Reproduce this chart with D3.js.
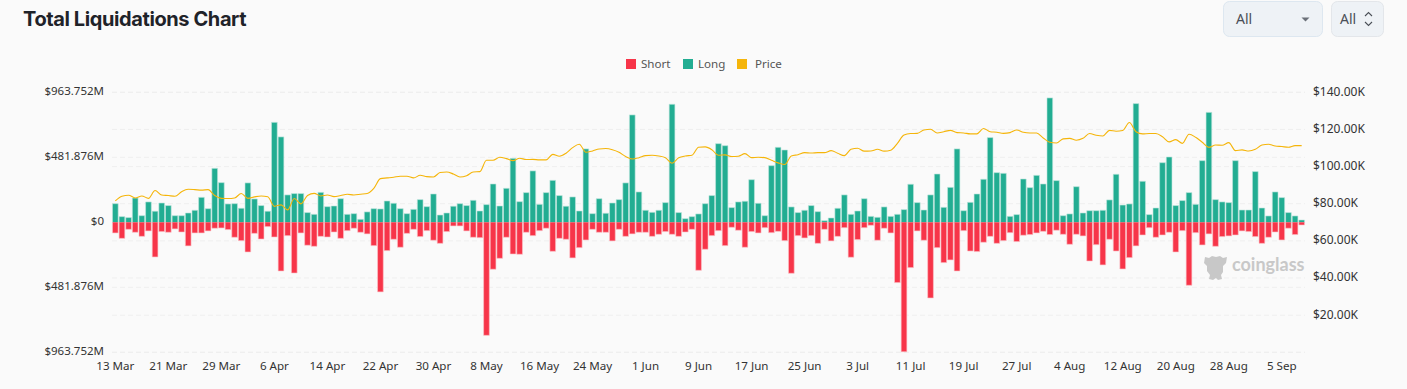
<!DOCTYPE html>
<html>
<head>
<meta charset="utf-8">
<script src="https://cdn.jsdelivr.net/npm/d3@7"></script>
<style>
  html, body { margin: 0; background: #fafafa; overflow: hidden; }
  text { font-family: "Noto Sans", sans-serif; }
</style>
</head>
<body>
<div id="container"></div>
<script>
/* CONSTANTS AND DATA */
const width = 1407, height = 389
const margin = { top: 92.3, bottom: 36.7, left: 112, right: 102 }

const days = d3.utcDay.range(Date.UTC(2025, 2, 13), Date.UTC(2025, 8, 9))
const dateTicks = ["13 Mar","21 Mar","29 Mar","6 Apr","14 Apr","22 Apr","30 Apr","8 May","16 May","24 May","1 Jun","9 Jun","17 Jun","25 Jun","3 Jul","11 Jul","19 Jul","27 Jul","4 Aug","12 Aug","20 Aug","28 Aug","5 Sep"]

// liquidations in $M
const longs = [138,42,35,180,49,151,82,143,124,49,49,69,89,185,101,400,294,136,138,104,292,173,124,82,741,633,203,213,213,72,59,222,116,121,175,59,64,22,77,101,99,158,141,101,64,96,168,116,210,54,69,119,138,124,163,84,131,284,121,252,474,153,220,381,133,220,311,198,119,188,84,544,64,175,67,143,168,292,796,225,89,74,89,146,875,72,27,42,62,138,198,583,568,109,151,156,316,141,49,420,556,536,114,72,89,124,79,12,32,104,203,59,84,175,44,37,114,44,59,94,282,146,91,203,358,111,259,544,86,148,210,319,628,368,363,44,57,321,257,348,284,922,309,49,62,264,69,86,86,89,166,356,128,136,880,304,57,106,442,484,124,161,220,133,457,815,168,151,146,457,91,91,376,106,47,225,183,72,47,17]
const shorts = [79,119,52,74,104,64,257,69,74,49,72,175,79,79,64,44,42,54,111,136,220,82,124,32,109,361,99,376,79,170,178,104,109,72,119,62,44,74,86,173,516,210,126,185,82,52,106,62,133,156,69,27,27,64,111,114,838,348,267,111,235,237,74,99,62,44,215,119,126,264,188,131,52,74,74,138,52,104,86,74,74,104,89,69,89,104,72,52,356,200,99,62,173,37,59,185,69,79,40,77,67,136,378,99,116,99,156,52,138,104,40,259,128,40,22,133,44,79,447,960,336,64,133,561,188,299,279,361,62,213,217,148,104,156,136,77,143,96,91,79,67,91,59,89,163,89,101,287,166,316,126,213,346,262,175,94,40,111,94,74,220,62,467,77,168,86,178,106,101,94,64,69,106,156,111,72,131,44,91,20]
// price in $K
const price = [81.5,84.0,84.6,83.1,84.2,82.9,87.1,84.7,84.4,84.0,86.5,87.8,87.6,87.3,87.6,84.4,82.9,82.8,83.1,85.5,82.9,83.7,84.2,83.8,78.6,79.4,76.7,82.8,79.9,84.4,85.6,84.2,84.7,83.8,84.4,85.1,84.7,85.1,85.5,88.3,93.5,93.9,94.3,94.8,94.8,93.9,95.3,94.6,94.4,96.8,97.1,96.0,94.4,95.1,97.1,97.3,103.4,103.4,105.0,104.3,103.2,104.5,103.8,103.9,103.6,103.6,106.6,105.6,107.2,110.2,112.0,107.7,108.4,109.5,109.7,109.1,107.7,105.4,104.1,104.8,105.9,106.1,105.7,104.8,101.8,104.7,105.7,106.1,110.4,110.6,109.1,106.1,106.3,105.4,105.6,107.0,104.8,105.0,104.8,103.4,102.0,101.1,105.7,106.4,107.5,107.3,107.5,107.5,108.6,107.2,105.9,109.3,109.9,108.3,108.4,109.3,108.3,108.8,112.5,117.0,117.8,117.9,119.7,120.1,118.1,118.8,119.5,118.3,118.1,117.6,117.6,120.5,118.8,118.5,117.9,118.3,119.7,118.5,118.1,118.1,115.4,113.1,112.7,114.9,115.2,114.2,115.2,117.8,116.9,116.5,119.5,119.0,119.4,123.7,118.8,117.6,117.8,117.8,116.1,113.3,114.5,112.5,117.4,115.8,113.1,110.4,111.6,111.5,112.9,108.6,109.0,108.4,109.3,111.6,112.0,111.1,110.8,110.4,111.3,111.3]

const leftTicks = [-963.752, -481.876, 0, 481.876, 963.752]
const rightTicks = [20, 40, 60, 80, 100, 120, 140]
const legendItems = ["Short", "Long", "Price"]

const red = "#f73549", green = "#22ad92", yellow = "#f5b50a"

/* SVG */
const svg = d3.select("#container").append("svg")
  .attr("width", width)
  .attr("height", height)
  .style("display", "block")

svg.append("text").attr("x", 23).attr("y", 26)
  .attr("font-size", 20).attr("font-weight", 700).attr("fill", "#1f2329")
  .style("font-family", "Inter, sans-serif").style("letter-spacing", "-0.4px")
  .text("Total Liquidations Chart")

/* SCALES */
const xScale = d3.scaleBand()
  .domain(days)
  .range([margin.left, width - margin.right])
  .paddingInner(0.14)
  .paddingOuter(0.07)
const yLeft = d3.scaleLinear()
  .domain([-963.752, 963.752])
  .range([height - margin.bottom, margin.top])
const yRight = d3.scaleLinear()
  .domain([0, 140])
  .range([height - margin.bottom, margin.top])
const center = d => xScale(d) + xScale.bandwidth() / 2

/* GRID */
const gridLines = leftTicks.map(yLeft).concat([0].concat(rightTicks).map(yRight))
svg.append("g").selectAll("line").data(gridLines).join("line")
  .attr("x1", margin.left).attr("x2", width - margin.right)
  .attr("y1", d => d).attr("y2", d => d)
  .attr("stroke", "#efefef").attr("stroke-dasharray", "5,3")

/* BARS */
// open at the baseline so the light outline doesn't draw a line along zero
const barPath = (d, v) => {
  const x0 = xScale(d), x1 = x0 + xScale.bandwidth()
  return `M${x0},${yLeft(0)}V${yLeft(v)}H${x1}V${yLeft(0)}`
}
svg.append("g").selectAll("path").data(days).join("path")
  .attr("d", (d, i) => barPath(d, longs[i]))
  .attr("fill", green)
  .attr("stroke", "#bfe6dd").attr("stroke-width", 0.6)
svg.append("g").selectAll("path").data(days).join("path")
  .attr("d", (d, i) => barPath(d, -shorts[i]))
  .attr("fill", red)
  .attr("stroke", "#fbc4ca").attr("stroke-width", 0.6)

/* PRICE LINE */
const priceLine = d3.line()
  .x((d, i) => center(days[i]))
  .y(d => yRight(d))
  .curve(d3.curveMonotoneX)
svg.append("path")
  .datum(price)
  .attr("fill", "none")
  .attr("stroke", yellow)
  .attr("stroke-width", 1.1)
  .attr("d", priceLine)

/* AXES */
const styleAxis = size => g => {
  g.select(".domain").remove()
  g.selectAll("line").remove()
  g.selectAll("text").attr("font-size", size).attr("fill", "#333")
    .style("font-family", '"Noto Sans", sans-serif')
}
const fmtLeft = d => d === 0 ? "$0" : "$" + Math.abs(d).toFixed(3) + "M"
svg.append("g")
  .attr("transform", `translate(${margin.left - 8}, -1)`)
  .call(d3.axisLeft(yLeft).tickValues(leftTicks).tickFormat(fmtLeft).tickSize(0).tickPadding(0))
  .call(styleAxis(11.5))
svg.append("g")
  .attr("transform", `translate(${width - margin.right + 8}, -1)`)
  .call(d3.axisRight(yRight).tickValues(rightTicks).tickFormat(d => "$" + d.toFixed(2) + "K").tickSize(0).tickPadding(0))
  .call(styleAxis(12))
svg.append("g")
  .attr("transform", `translate(0, ${height - margin.bottom + 9})`)
  .call(d3.axisBottom(xScale)
    .tickValues(days.filter((d, i) => i % 8 === 0))
    .tickFormat((d, i) => dateTicks[i])
    .tickSize(0).tickPadding(0))
  .call(styleAxis(11.6))

/* LEGEND */
const legendX = [626, 683, 737], legendTextX = [641, 698, 755]
const legend = svg.append("g")
legend.selectAll("rect").data(legendItems).join("rect")
  .attr("x", (d, i) => legendX[i]).attr("y", 59).attr("width", 10).attr("height", 10)
  .attr("fill", (d, i) => [red, green, yellow][i])
legend.selectAll("text").data(legendItems).join("text")
  .attr("x", (d, i) => legendTextX[i]).attr("y", 68)
  .attr("font-size", 11.6).attr("fill", "#555").text(d => d)

/* DROPDOWNS */
const controls = svg.append("g")
controls.append("rect").attr("x", 1223.5).attr("y", 1.5).attr("width", 99).attr("height", 35).attr("rx", 6)
  .attr("fill", "#eef2f6").attr("stroke", "#dde7f0")
controls.append("rect").attr("x", 1331.5).attr("y", 1.5).attr("width", 52).attr("height", 35).attr("rx", 6)
  .attr("fill", "#eef2f6").attr("stroke", "#e3e6ea")
controls.append("text").attr("x", 1236).attr("y", 24).attr("font-size", 14).attr("fill", "#4a4f57").text("All")
controls.append("text").attr("x", 1340).attr("y", 24).attr("font-size", 14).attr("fill", "#4a4f57").text("All")
controls.append("path").attr("d", "M1301.5 17.5h8l-4 4z").attr("fill", "#6b7079")
controls.append("path").attr("d", "M1365 16l3.5-3.5 3.5 3.5M1365 22l3.5 3.5 3.5-3.5")
  .attr("fill", "none").attr("stroke", "#4a4f57").attr("stroke-width", 1.1)

/* WATERMARK */
const mark = svg.append("g").attr("fill", "#c8c8c8")
mark.append("path").attr("d", "M1205 257l4 1 3-2 4 1 4-1 3 2 4-1-1 6-3 3v6l-2 3 1 4-4 1-2-2-3 2-4-1 1-4-3-4v-5l-3-3z")
mark.append("text").attr("x", 1232).attr("y", 271)
  .attr("font-size", 18).attr("font-weight", 700)
  .style("font-family", "Lato, sans-serif").text("coinglass")
</script>
</body>
</html>
